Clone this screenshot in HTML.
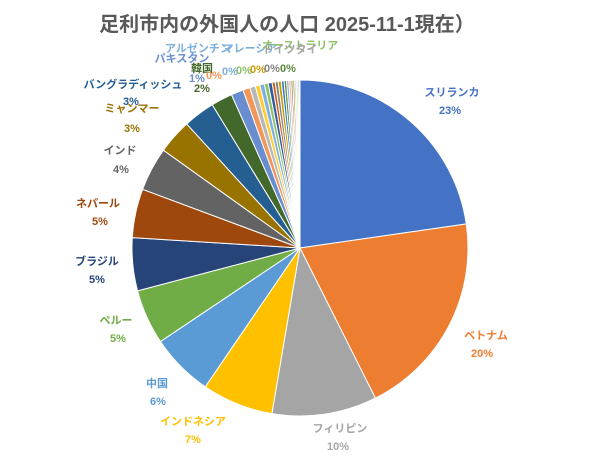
<!DOCTYPE html>
<html><head><meta charset="utf-8"><style>
html,body{margin:0;padding:0;background:#fff;}
svg text{font-family:"Liberation Sans","Noto Sans CJK JP",sans-serif;font-weight:bold;}
</style></head><body>
<svg id="s" width="600" height="451" viewBox="0 0 600 451" xmlns="http://www.w3.org/2000/svg">
<rect width="600" height="451" fill="#fff"/>
<text x="287" y="31" text-anchor="middle" font-size="20" fill="#595959">足利市内の外国人の人口 2025-11-1現在）</text>
<g id="pie"></g>
<g font-size="11" text-anchor="middle">
<text x="452" y="96" fill="#4472C4">スリランカ</text><text x="450" y="114" fill="#4472C4">23%</text>
<text x="486" y="339" fill="#ED7D31">ベトナム</text><text x="482" y="357" fill="#ED7D31">20%</text>
<text x="340" y="432" fill="#A5A5A5">フィリピン</text><text x="338" y="450" fill="#A5A5A5">10%</text>
<text x="193" y="425" fill="#FFC000">インドネシア</text><text x="193" y="443" fill="#FFC000">7%</text>
<text x="157" y="387" fill="#5B9BD5">中国</text><text x="158" y="405" fill="#5B9BD5">6%</text>
<text x="116" y="324" fill="#70AD47">ペルー</text><text x="118" y="342" fill="#70AD47">5%</text>
<text x="97" y="265" fill="#264478">ブラジル</text><text x="97" y="283" fill="#264478">5%</text>
<text x="98" y="207" fill="#9E480E">ネパール</text><text x="100" y="225" fill="#9E480E">5%</text>
<text x="120" y="154" fill="#636363">インド</text><text x="121" y="173" fill="#636363">4%</text>
<text x="132" y="112" fill="#997300">ミャンマー</text><text x="132" y="132" fill="#997300">3%</text>
<text x="133" y="88" fill="#255E91">バングラディッシュ</text><text x="131" y="105" fill="#255E91">3%</text>
<text x="202" y="72" fill="#43682B">韓国</text><text x="202" y="92" fill="#43682B">2%</text>
<text x="197" y="82" fill="#698ED0">1%</text>
<text x="182" y="62" fill="#698ED0">パキスタン</text>
<text x="198" y="52" fill="#7CAFDD">アルゼンチン</text>
<text x="214" y="79" fill="#F1975A">0%</text>
<text x="230" y="75" fill="#7CAFDD">0%</text>
<text x="244" y="74" fill="#8CC168">0%</text>
<text x="258" y="73" fill="#CC9A00">0%</text>
<text x="272" y="72" fill="#848484">0%</text>
<text x="288" y="72" fill="#5A8A39">0%</text>
<text x="250" y="52" fill="#7CAFDD">マレーシア</text>
<text x="300" y="49" fill="#8CC168">オーストラリア</text>
<text x="290" y="53" fill="#A5A5A5">ドイツタイ</text>
</g>
</svg>
<script>
var vals=[23.2,20.3,10.3,7.0,6.2,5.4,5.2,4.8,4.3,3.4,3.1,2.1,1.2,0.7,0.55,0.45,0.45,0.38,0.38,0.3,0.3,0.3,0.27,0.24,0.22,0.21,0.18,0.18,0.15,0.15,0.12,0.1];
var cols=["#4472C4","#ED7D31","#A5A5A5","#FFC000","#5B9BD5","#70AD47","#264478","#9E480E","#636363","#997300","#255E91","#43682B","#698ED0","#F1975A","#B7B7B7","#FFCD33","#7CAFDD","#8CC168","#335AA1","#D26012","#848484","#CC9A00","#327DC2","#5A8A39","#8FAADC","#F4B183","#7F7F7F","#BF9000","#9DC3E6","#A9D18E","#2F5597","#7F6000"];
var tot=vals.reduce((a,b)=>a+b,0),cx=300,cy=248,r=168,a=0,g=document.getElementById('pie'),h='';
for(var i=0;i<vals.length;i++){var a2=a+vals[i]/tot*2*Math.PI;
var x1=cx+r*Math.sin(a),y1=cy-r*Math.cos(a),x2=cx+r*Math.sin(a2),y2=cy-r*Math.cos(a2);
h+='<path d="M'+cx+','+cy+'L'+x1+','+y1+'A'+r+','+r+' 0 '+((a2-a)>Math.PI?1:0)+' 1 '+x2+','+y2+'Z" fill="'+cols[i]+'" stroke="#fff" stroke-width="1"/>';a=a2;}
g.innerHTML=h;
</script>
</body></html>
